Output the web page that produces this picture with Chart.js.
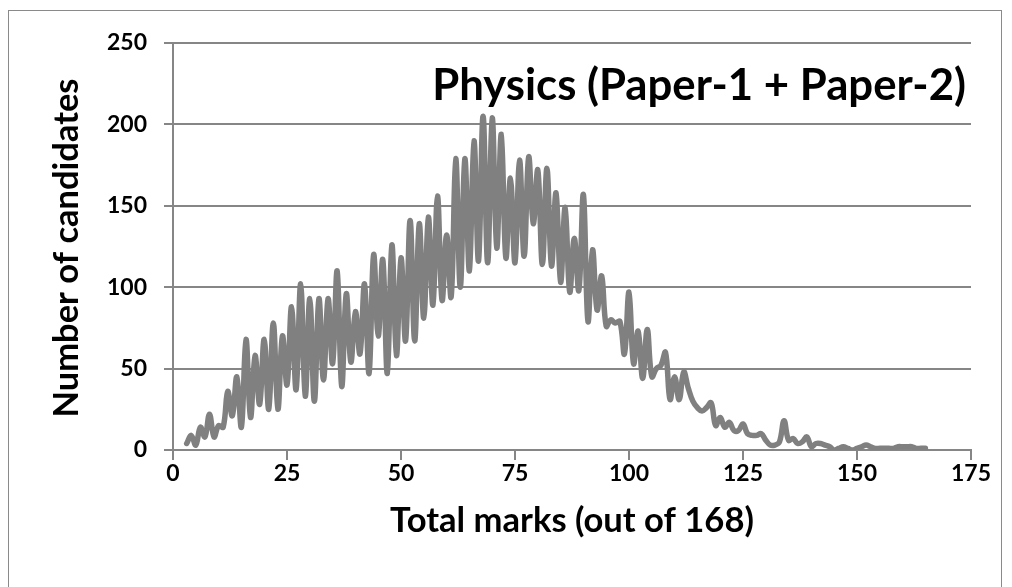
<!DOCTYPE html>
<html><head><meta charset="utf-8">
<script src="https://cdn.jsdelivr.net/npm/chart.js@4/dist/chart.umd.min.js"></script>
<style>
html,body{margin:0;padding:0;background:#fff;}
#wrap{position:relative;width:1012px;height:587px;overflow:hidden;}
#frame{position:absolute;left:8px;top:10px;width:994px;height:620px;border:1.5px solid #8a8a8a;box-sizing:border-box;}
canvas{position:absolute;left:0;top:0;}
</style></head><body>
<div id="wrap"><div id="frame"></div><canvas id="c" width="1012" height="587"></canvas></div>
<script>
const marks = [3,4,5,6,7,8,9,10,11,12,13,14,15,16,17,18,19,20,21,22,23,24,25,26,27,28,29,30,31,32,33,34,35,36,37,38,39,40,41,42,43,44,45,46,47,48,49,50,51,52,53,54,55,56,57,58,59,60,61,62,63,64,65,66,67,68,69,70,71,72,73,74,75,76,77,78,79,80,81,82,83,84,85,86,87,88,89,90,91,92,93,94,95,96,97,98,99,100,101,102,103,104,105,106,107,108,109,110,111,112,113,114,115,116,117,118,119,120,121,122,123,124,125,126,127,128,129,130,131,132,133,134,135,136,137,138,139,140,141,142,143,144,145,146,147,148,149,150,151,152,153,154,155,156,157,158,159,160,161,162,163,164,165];
const candidates = [4,9,3,14,8,22,8,15,14,36,21,45,14,68,20,58,28,68,25,78,25,70,40,88,37,102,33,93,30,93,43,93,53,110,39,96,54,85,59,102,47,120,70,117,47,126,58,118,67,141,67,139,81,143,89,156,92,132,94,179,100,179,110,190,116,205,115,204,124,194,118,167,115,178,119,180,139,172,114,173,113,158,103,149,97,130,98,157,79,123,86,107,76,80,78,79,59,97,53,73,44,74,45,50,52,60,31,45,31,48,38,30,26,24,26,29,15,20,14,17,12,12,16,10,9,9,10,6,3,3,5,18,6,7,4,5,8,2,4,4,3,2,0,1,2,1,0,1,2,3,2,1,1,1,1,1,2,2,2,2,1,1,1];
const xTicks = [0,25,50,75,100,125,150,175];
const yTicks = [0,50,100,150,200,250];
const chartTitle = "Physics (Paper-1 + Paper-2)";
const xTitle = "Total marks (out of 168)";
const yTitle = "Number of candidates";

const FAM = "Lato, 'Open Sans', sans-serif";
const GRID = '#868686';

function fitFont(ctx, text, width, weight) {
  let size = 40;
  ctx.font = weight + ' ' + size + 'px ' + FAM;
  const w = ctx.measureText(text).width;
  return size * width / w;
}

const textPlugin = {
  id: 'texts',
  afterDraw(chart) {
    const ctx = chart.ctx;
    ctx.save();
    ctx.fillStyle = '#000';
    let s = fitFont(ctx, chartTitle, 534, 'bold');
    ctx.font = 'bold ' + s + 'px ' + FAM;
    ctx.textAlign = 'right'; ctx.textBaseline = 'middle';
    ctx.fillText(chartTitle, 966, 86);
    s = fitFont(ctx, xTitle, 364, 'bold');
    ctx.font = 'bold ' + s + 'px ' + FAM;
    ctx.textAlign = 'center';
    ctx.fillText(xTitle, 572, 521);
    s = fitFont(ctx, yTitle, 339, 'bold');
    ctx.font = 'bold ' + s + 'px ' + FAM;
    ctx.translate(67, 248);
    ctx.rotate(-Math.PI / 2);
    ctx.fillText(yTitle, 0, 0);
    ctx.restore();
  }
};

new Chart(document.getElementById('c'), {
  type: 'line',
  data: {
    datasets: [{
      data: marks.map((m, i) => ({ x: m, y: candidates[i] })),
      borderColor: '#808080',
      borderWidth: 5.5,
      pointRadius: 0,
      tension: 0.4,
      fill: false,
      borderCapStyle: 'round',
      borderJoinStyle: 'round'
    }]
  },
  options: {
    responsive: false,
    animation: false,
    layout: { padding: { top: 43, right: 41, left: 0, bottom: 0 } },
    plugins: { legend: { display: false }, tooltip: { enabled: false }, title: { display: false } },
    scales: {
      x: {
        type: 'linear', min: 0, max: 175,
        afterBuildTicks(s) { s.ticks = xTicks.map(v => ({ value: v })); },
        afterFit(s) { s.height = 137; },
        ticks: { color: '#000', font: { family: FAM, weight: 'bold', size: 23 }, padding: 0, maxRotation: 0, autoSkip: false },
        grid: { drawOnChartArea: false, drawTicks: true, tickLength: 10, color: GRID, lineWidth: 2 },
        border: { color: GRID, width: 2 }
      },
      y: {
        min: 0, max: 250,
        afterBuildTicks(s) { s.ticks = yTicks.map(v => ({ value: v })); },
        afterFit(s) { s.width = 173; },
        ticks: { color: '#000', font: { family: FAM, weight: 'bold', size: 23 }, padding: 17 },
        grid: { color: GRID, lineWidth: 2, tickLength: 9 },
        border: { color: GRID, width: 2 }
      }
    }
  },
  plugins: [textPlugin]
});
</script>
</body></html>
